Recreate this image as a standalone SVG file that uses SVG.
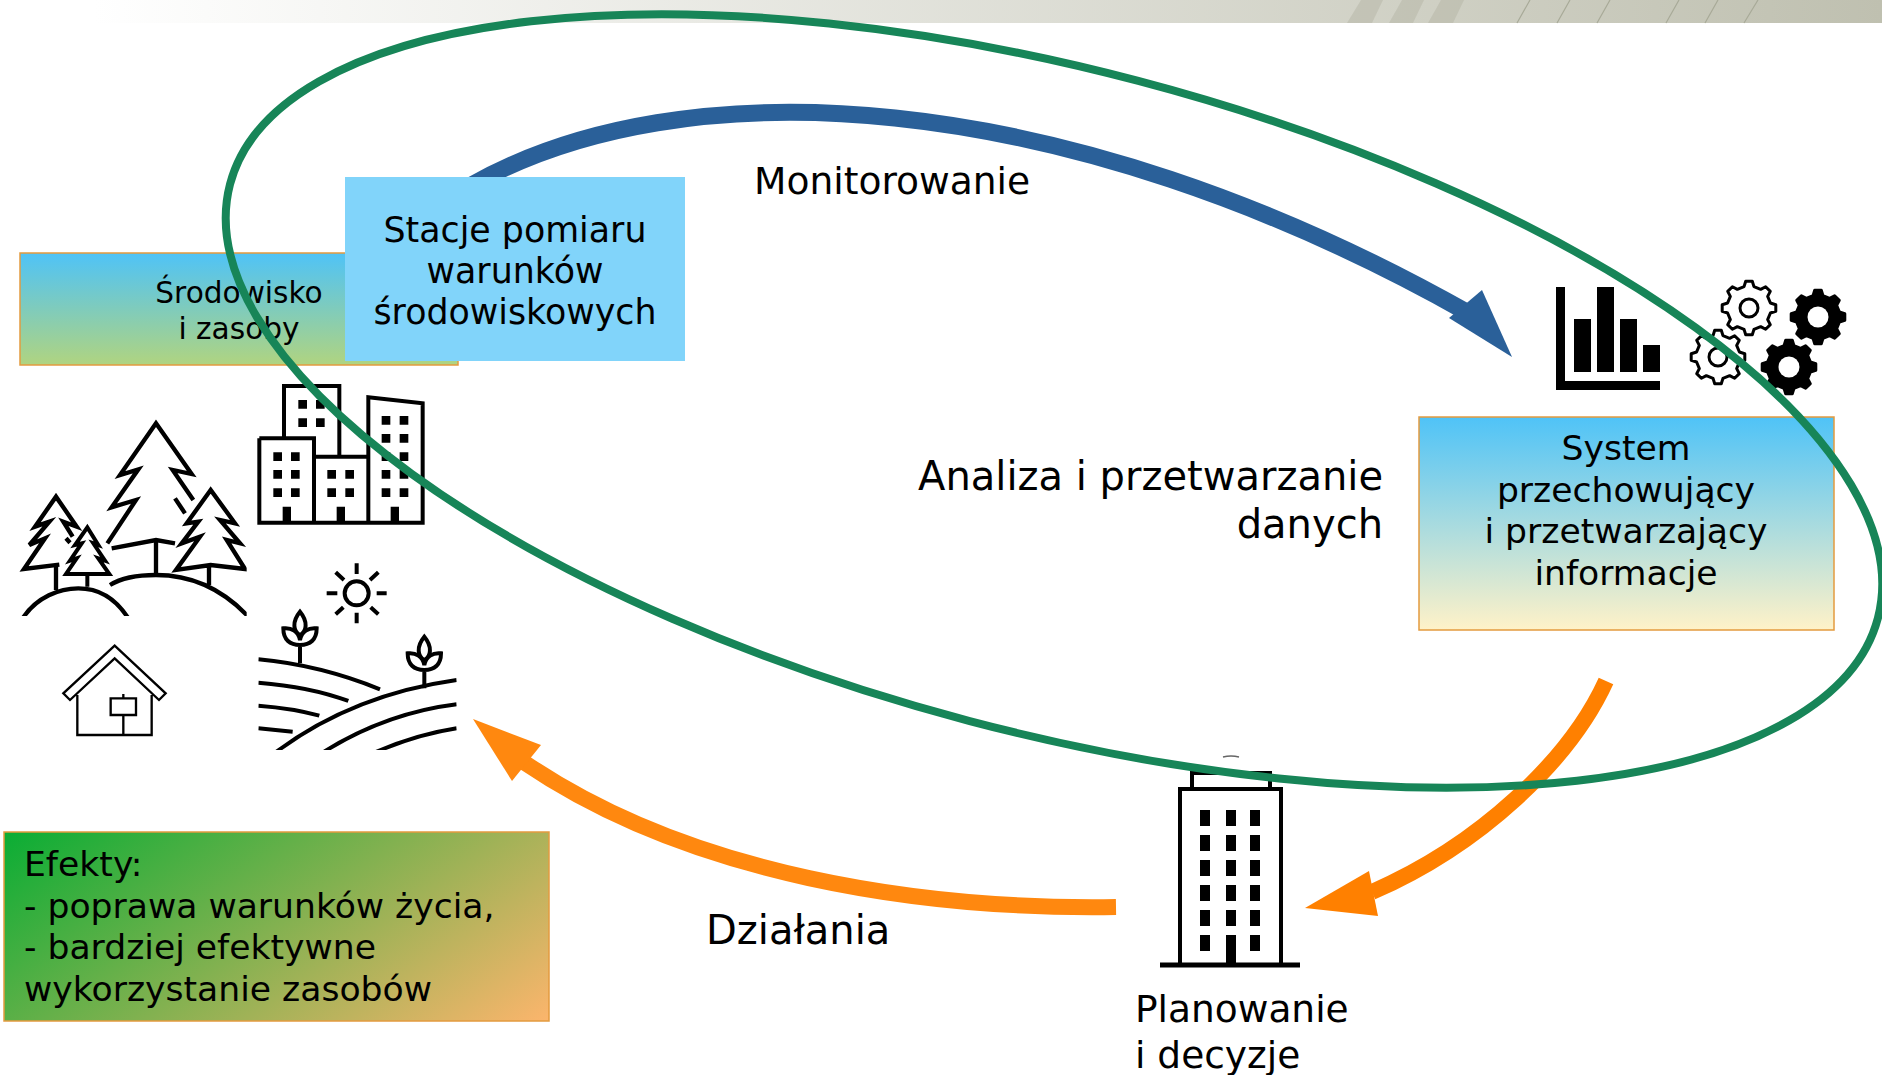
<svg xmlns="http://www.w3.org/2000/svg" width="1882" height="1075" viewBox="0 0 1882 1075">
<defs>
<linearGradient id="bar" x1="0" x2="1" y1="0" y2="0"><stop offset="0.05" stop-color="#ffffff"/><stop offset="1" stop-color="#bfc0b0"/></linearGradient>
<linearGradient id="g1" x1="0" x2="0" y1="0" y2="1"><stop offset="0" stop-color="#4fc3f7"/><stop offset="1" stop-color="#fff2c8"/></linearGradient>
<linearGradient id="g2" x1="0" x2="0" y1="0" y2="1"><stop offset="0" stop-color="#4fc3f7"/><stop offset="1" stop-color="#b0d480"/></linearGradient>
<linearGradient id="g3" gradientUnits="userSpaceOnUse" x1="4" y1="832" x2="273" y2="1214"><stop offset="0" stop-color="#0aad34"/><stop offset="1" stop-color="#fbb56c"/></linearGradient>
<path id="gear" d="M21.4 -4.95L26.8 -3.29L26.8 3.29L21.4 4.95L18.66 11.66L21.28 16.62L16.62 21.28L11.66 18.66L4.95 21.4L3.29 26.8L-3.29 26.8L-4.95 21.4L-11.66 18.66L-16.62 21.28L-21.28 16.62L-18.66 11.66L-21.4 4.95L-26.8 3.29L-26.8 -3.29L-21.4 -4.95L-18.66 -11.66L-21.28 -16.62L-16.62 -21.28L-11.66 -18.66L-4.95 -21.4L-3.29 -26.8L3.29 -26.8L4.95 -21.4L11.66 -18.66L16.62 -21.28L21.28 -16.62L18.66 -11.66Z" stroke-linejoin="round"/>
<g id="plant"><path d="M900 880V825M900 725C875 755 880 785 900 795C920 785 925 755 900 725ZM850 775C850 810 870 825 900 825C930 825 950 810 950 775C925 772 905 785 900 810C895 785 875 772 850 775Z"/></g>
<clipPath id="clipField"><rect x="775" y="700" width="595" height="440"/></clipPath>
<clipPath id="clipForest"><rect x="40" y="120" width="700" height="618"/></clipPath>
</defs>
<style>
text{font-family:"DejaVu Sans",sans-serif;fill:#000}
.t{text-anchor:middle}
.box{stroke:#e39b3f;stroke-width:1.5}
.k{fill:none;stroke:#000;stroke-width:12}
.f{fill:#000}
</style>
<g id="pasek"><rect width="1882" height="23" fill="url(#bar)"/>
<g fill="#a8aa98" fill-opacity="0.35"><polygon points="1347,23 1372,23 1383,0 1361,0"/><polygon points="1389,23 1413,23 1424,0 1402,0"/><polygon points="1428,23 1453,23 1464,0 1441,0"/></g>
<path d="M1517 23L1530 0M1557 23L1570 0M1597 23L1610 0M1666 23L1679 0M1705 23L1718 0M1744 23L1758 0" stroke="#a8aa98" stroke-width="1.2" fill="none"/></g>
<g id="connectors">
<path d="M470 186C680 66 1060 82 1470 314" fill="none" stroke="#2a6099" stroke-width="17"/>
<polygon points="1482,290 1512,357 1449,318" fill="#2a6099"/>
<path d="M1606 681C1570 760 1480 845 1372 892" fill="none" stroke="#ff8000" stroke-width="16"/>
<polygon points="1305,908 1369,871 1378,916" fill="#ff8000"/>
<path d="M1116 907C920 910 690 875 525 763" fill="none" stroke="#ff880f" stroke-width="16"/>
<polygon points="473,719 541,745 512,781" fill="#ff880f"/>
</g>
<g id="srodowisko"><rect class="box" x="20" y="253" width="438" height="112" fill="url(#g2)"/>
<text class="t" x="239" y="303" font-size="29.6">Środowisko</text><text class="t" x="239" y="339" font-size="29.6">i zasoby</text></g>
<g id="stacje"><rect x="345" y="177" width="340" height="184" fill="#81d4fa"/>
<text class="t" x="515" y="242" font-size="34.8">Stacje pomiaru</text><text class="t" x="515" y="283" font-size="34.8">warunków</text><text class="t" x="515" y="324" font-size="34.8">środowiskowych</text></g>
<g id="system"><rect class="box" x="1419" y="417" width="415" height="213" fill="url(#g1)"/>
<text class="t" x="1626" y="460" font-size="34.6">System</text><text class="t" x="1626" y="502" font-size="34.6">przechowujący</text><text class="t" x="1626" y="543" font-size="34.6">i przetwarzający</text><text class="t" x="1626" y="585" font-size="34.6">informacje</text></g>
<g id="efekty"><rect class="box" x="4" y="832" width="545" height="189" fill="url(#g3)"/>
<text x="24" y="876" font-size="34.6">Efekty:</text><text x="24" y="918" font-size="34.6">- poprawa warunków życia,</text><text x="24" y="959" font-size="34.6">- bardziej efektywne</text><text x="24" y="1001" font-size="34.6">wykorzystanie zasobów</text></g>
<g id="labels">
<text x="754" y="194" font-size="37.6">Monitorowanie</text>
<text x="1383" y="490" font-size="40" text-anchor="end">Analiza i przetwarzanie</text><text x="1383" y="538" font-size="40" text-anchor="end">danych</text>
<text x="706" y="944" font-size="40">Działania</text>
<text x="1135" y="1022" font-size="37.5">Planowanie</text><text x="1135" y="1068" font-size="37.5">i decyzje</text>
</g>
<g id="ikony" transform="translate(0 370) scale(0.33333)">
<g id="miasto">
<path class="k" d="M852 200V48H1018V255M778 205H942V458M942 260H1105M778 205V458H1268V100L1105 82V458"/>
<path class="f" d="M895 90h26v26h-26zM948 90h26v26h-26zM895 145h26v26h-26zM948 145h26v26h-26zM820 247h26v26h-26zM873 247h26v26h-26zM820 300h26v26h-26zM873 300h26v26h-26zM820 355h26v26h-26zM873 355h26v26h-26zM982 300h26v26h-26zM1036 300h26v26h-26zM982 355h26v26h-26zM1036 355h26v26h-26zM1145 138h26v26h-26zM1199 138h26v26h-26zM1145 192h26v26h-26zM1199 192h26v26h-26zM1145 247h26v26h-26zM1199 247h26v26h-26zM1145 300h26v26h-26zM1199 300h26v26h-26zM1145 355h26v26h-26zM1199 355h26v26h-26zM848 410h25v45h-25zM1010 410h25v45h-25zM1172 410h25v45h-25z"/>
</g>
<g id="las" clip-path="url(#clipForest)" style="stroke-width:13">
<path class="k" style="stroke-width:13" d="M322 520L408 390L335 412L415 298L360 315L468 160L575 312L518 300L580 390M525 385L555 430M335 535L468 510L525 520M468 510V615"/>
<path class="k" style="stroke-width:13" d="M218 500L190 455L230 470L168 380L105 470L148 455L88 525L135 505L72 597L178 584M198 505L210 518M168 590V660"/>
<path class="k" d="M262 472L225 525L245 520L210 572L230 565L198 612H328L295 565L315 572L280 520L295 525ZM262 612V650"/>
<path class="k" style="stroke-width:13" d="M632 360L560 460L595 455L545 520L600 500L528 600L632 585L735 597L680 510L720 520L660 450L705 460ZM627 590V645"/>
<path class="k" style="stroke-width:13" d="M68 745C110 680 180 655 235 655C300 655 350 690 385 745M330 645C370 620 420 615 468 615C580 615 670 660 745 740"/>
</g>
<g id="sun"><circle class="k" cx="1070" cy="670" r="36"/><path class="k" d="M1070 580V612M1070 728V760M980 670H1012M1130 670H1160M1007 607L1032 630M1135 607L1110 630M1007 733L1030 712M1135 733L1112 712"/></g>
<g id="pole"><g clip-path="url(#clipField)"><path class="k" d="M775 868Q960 885 1140 958M775 938Q930 950 1045 993M775 1007Q880 1015 958 1037M775 1075L878 1085M815 1156Q1050 975 1370 930M955 1156Q1150 1030 1370 1003M1105 1156Q1240 1095 1370 1075"/></g>
<use href="#plant" class="k"/><use href="#plant" class="k" transform="translate(373 75)"/></g>
<g id="dom"><path d="M344 827L497 970L477 990L344 865L210 990L190 970ZM232 975V1095H455V975M370 1035V1095M370 972V985M332 985H408V1035H332Z" fill="none" stroke="#000" stroke-width="7"/></g>
</g>
<g id="wykres" class="f"><rect x="1556" y="287" width="9" height="103"/><rect x="1556" y="381" width="104" height="9"/><rect x="1574" y="319" width="17" height="53"/><rect x="1597" y="287" width="17" height="85"/><rect x="1620" y="319" width="17" height="53"/><rect x="1643" y="345" width="17" height="27"/></g>
<g id="zebatki">
<use href="#gear" transform="translate(1749 308)" fill="#fff" stroke="#000" stroke-width="3"/><circle cx="1749" cy="308" r="9" fill="none" stroke="#000" stroke-width="3"/>
<use href="#gear" transform="translate(1718 357)" fill="#fff" stroke="#000" stroke-width="3"/><circle cx="1718" cy="357" r="9" fill="none" stroke="#000" stroke-width="3"/>
<use href="#gear" transform="translate(1818 317)" fill="#000" stroke="#000" stroke-width="3"/><circle cx="1818" cy="317" r="10.5" fill="#fff"/>
<use href="#gear" transform="translate(1789 367)" fill="#000" stroke="#000" stroke-width="3"/><circle cx="1789" cy="367" r="10.5" fill="#fff"/>
</g>
<g id="budynek"><path d="M1192 789V773H1270V789M1180 789V966M1281 789V966" fill="none" stroke="#000" stroke-width="4"/><path d="M1178 789H1283" stroke="#000" stroke-width="4"/><path d="M1160 965H1300" stroke="#000" stroke-width="5"/><path d="M1223 757Q1231 755 1239 757" fill="none" stroke="#666" stroke-width="1.5"/>
<path class="f" d="M1200 810h10v16h-10zM1226 810h10v16h-10zM1250 810h10v16h-10zM1200 835h10v16h-10zM1226 835h10v16h-10zM1250 835h10v16h-10zM1200 860h10v16h-10zM1226 860h10v16h-10zM1250 860h10v16h-10zM1200 885h10v16h-10zM1226 885h10v16h-10zM1250 885h10v16h-10zM1200 910h10v16h-10zM1226 910h10v16h-10zM1250 910h10v16h-10zM1200 935h10v16h-10zM1226 935h10v30h-10zM1250 935h10v16h-10z"/></g>
<g id="petla"><ellipse cx="1054" cy="401" rx="852" ry="331" transform="rotate(14.75 1054 401)" fill="none" stroke="#178558" stroke-width="8"/></g>
</svg>
